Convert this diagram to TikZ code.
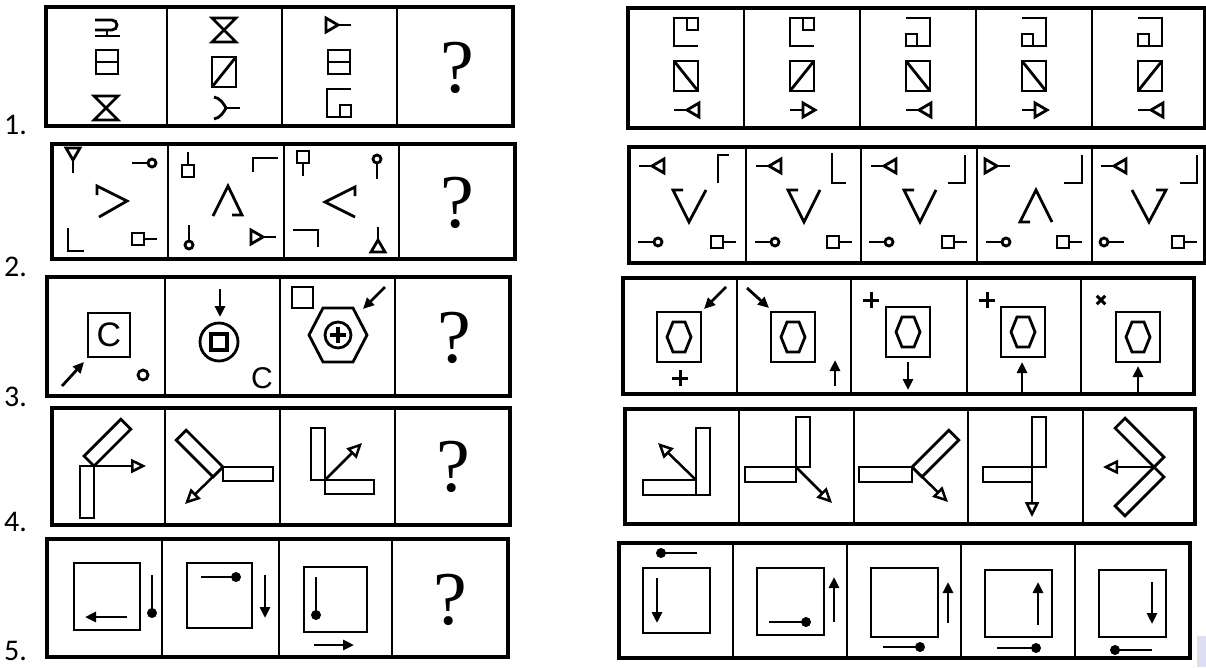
\documentclass[tikz,border=0pt]{standalone}
\usepackage{fontspec}
\usetikzlibrary{arrows.meta}
\newfontfamily\numfont{Carlito}
\newfontfamily\qfont{Liberation Serif}
\newfontfamily\cfont{Liberation Sans}
\begin{document}
\begin{tikzpicture}[x=1pt,y=-1pt, line join=miter,
  frame/.style={line width=3.4pt},
  divl/.style={line width=2.5pt},
  sym/.style={line width=2.8pt},
  farr/.style={line width=2.8pt,-{Triangle[length=11pt,width=10pt]}},
  oarr/.style={line width=2.5pt,-{Triangle[open,length=15pt,width=14pt]}},
  qm/.style={font=\qfont\fontsize{76}{76}\selectfont, inner sep=0pt},
  lab/.style={font=\numfont\fontsize{30}{30}\selectfont, inner sep=0pt, anchor=base west},
  lol/.pic={\draw[sym] (-12,0)--(4,0); \draw[sym] (8,0) circle (4pt);},
  sqs/.pic={\draw[sym] (-12,0)--(1,0); \draw[sym] (1,-6) rectangle (13,6);},
  tri/.pic={\draw[sym] (-12,0)--(1,0); \draw[sym] (1,0)--(13,-7)--(13,7)--cycle;},
  tarr/.pic={\draw[sym] (-12,0)--(1,0); \draw[sym] (1,-7)--(13,0)--(1,7)--cycle;},
  hg/.pic={\draw[sym] (-12,-12)--(12,-12)--(-12,12)--(12,12)--cycle;},
  bxh/.pic={\draw[sym] (-11,-12) rectangle (11,12); \draw[sym] (-11,0)--(11,0);},
  bxd/.pic={\draw[sym] (-12,-15) rectangle (12,15); \draw[sym] (-12,15)--(12,-15);},
  hk/.pic={\draw[sym] (12,-14)--(-12,-14)--(-12,14)--(12,14); \draw[sym] (1,-14) rectangle (12,-2);},
  yy/.pic={\draw[sym] (0,0)--(14,0); \draw[sym] (-12,-11) .. controls (-6,-10) and (-2,-4) .. (0,0) .. controls (-2,4) and (-6,10) .. (-12,11);},
  sqhex/.pic={\draw[sym] (-22,-25) rectangle (22,25); \draw[sym] (-12,0)--(-6,-15)--(6,-15)--(12,0)--(6,15)--(-6,15)--cycle;},
  plusm/.pic={\draw[line width=3pt] (-8,0)--(8,0) (0,-8)--(0,8);},
]
\useasboundingbox (0,0) rectangle (1206,667);
\fill[white] (0,0) rectangle (1206,667);
\fill[fill={rgb,255:red,222;green,222;blue,242}] (1197,636) rectangle (1206,667);

% ---------- row labels
\node[lab] (n1) at (4,134) {1.};
\node[lab] (n2) at (4,276) {2.};
\node[lab] (n3) at (4,406) {3.};
\node[lab] (n4) at (4,531) {4.};
\node[lab] (n5) at (4,660) {5.};

% ---------- frames
\draw[frame] (46,7) rectangle (513,126);
\foreach \d in {167,282,397} \draw[divl] (\d,7)--(\d,126);
\draw[frame] (52,144) rectangle (515,259);
\foreach \d in {168,284,399} \draw[divl] (\d,144)--(\d,259);
\draw[frame] (47,277) rectangle (510,396);
\foreach \d in {165,280,395} \draw[divl] (\d,277)--(\d,396);
\draw[frame] (52,408) rectangle (510,525);
\foreach \d in {165,280,395} \draw[divl] (\d,408)--(\d,525);
\draw[frame] (47,539) rectangle (508,657);
\foreach \d in {162,279,392} \draw[divl] (\d,539)--(\d,657);

\draw[frame] (628,8) rectangle (1205,128);
\foreach \d in {744,860,976,1092} \draw[divl] (\d,8)--(\d,128);
\draw[frame] (629,147) rectangle (1205,263);
\foreach \d in {746,861,977,1092} \draw[divl] (\d,147)--(\d,263);
\draw[frame] (623,278) rectangle (1194,394);
\foreach \d in {737,851,967,1081} \draw[divl] (\d,278)--(\d,394);
\draw[frame] (625,409) rectangle (1195,524);
\foreach \d in {739,854,968,1083} \draw[divl] (\d,409)--(\d,524);
\draw[frame] (619,543) rectangle (1190,658);
\foreach \d in {733,847,961,1075} \draw[divl] (\d,543)--(\d,658);

% ---------- question marks
\node[qm] (q1) at (457,68) {?};
\node[qm] (q2) at (457,203) {?};
\node[qm] (q3) at (454,338) {?};
\node[qm] (q4) at (453,467) {?};
\node[qm] (q5) at (450,600) {?};

% ---------- row 1 left
\draw[sym] (95,20)--(112,20) arc[start angle=90,end angle=-90,radius=5pt] -- (95,30);
\draw[sym] (95,36)--(120,36) (107,30)--(107,36);
\pic at (107,62) {bxh};
\pic at (106,108) {hg};
\pic at (224,30) {hg};
\pic at (224,72) {bxd};
\pic at (226,108) {yy};
\pic[rotate=180] at (339,25) {tri};
\pic at (339,62) {bxh};
\pic[yscale=-1] at (339,103) {hk};

% ---------- row 1 right
\foreach \c/\k/\d in {686/0/-1, 802/0/1, 918/180/-1, 1034/180/-1, 1150/180/1} {
  \pic[rotate=\k] at (\c,32) {hk};
  \pic[xscale=\d] at (\c,76) {bxd};
}
\pic at (686,110) {tri};
\pic at (802,110) {tarr};
\pic at (918,110) {tri};
\pic at (1034,110) {tarr};
\pic at (1150,110) {tri};

% ---------- row 2 left
\pic[rotate=90] at (73,161) {tri};
\pic at (144,163) {lol};
\draw[sym] (97,195)--(97,186)--(127,201)--(99,217);
\draw[sym] (68,228)--(68,251)--(84,251);
\pic[rotate=180] at (145,239) {sqs};
\pic[rotate=-90] at (188,164) {sqs};
\draw[sym] (253,172)--(253,158)--(278,158);
\draw[sym] (213,216)--(228,186)--(242,215)--(232,215);
\pic[rotate=-90] at (189,237) {lol};
\pic[rotate=180] at (264,237) {tri};
\pic[rotate=90] at (303,164) {sqs};
\pic[rotate=90] at (377,167) {lol};
\draw[sym] (355,196)--(355,187)--(325,202)--(355,217);
\draw[sym] (293,230)--(318,230)--(318,247);
\pic[rotate=-90] at (378,239) {tri};

% ---------- row 2 right
\pic at (651,166) {tri};
\draw[sym] (718,183)--(718,155)--(729,155);
\draw[sym] (683,190)--(673,190)--(689,222)--(706,190);
\pic at (650,242) {lol};
\pic[rotate=180] at (724,242) {sqs};

\pic at (768,166) {tri};
\draw[sym] (832,153)--(832,183)--(846,183);
\draw[sym] (798,190)--(788,190)--(804,222)--(820,190);
\pic at (767,242) {lol};
\pic[rotate=180] at (840,242) {sqs};

\pic at (883,166) {tri};
\draw[sym] (965,155)--(965,183)--(948,183);
\draw[sym] (914,190)--(904,190)--(920,222)--(936,190);
\pic at (881,242) {lol};
\pic[rotate=180] at (955,242) {sqs};

\pic[rotate=180] at (998,166) {tri};
\draw[sym] (1082,155)--(1082,183)--(1064,183);
\draw[sym] (1030,222)--(1020,222)--(1036,190)--(1052,222);
\pic at (998,242) {lol};
\pic[rotate=180] at (1070,242) {sqs};

\pic at (1113,166) {tri};
\draw[sym] (1197,155)--(1197,183)--(1180,183);
\draw[sym] (1156,190)--(1166,190)--(1149,222)--(1132,190);
\pic[rotate=180] at (1112,242) {lol};
\pic[rotate=180] at (1185,242) {sqs};

% ---------- row 3 left
\draw[sym] (88,313) rectangle (130,357);
\node[font=\cfont\fontsize{34}{34}\selectfont, inner sep=0pt] (c1) at (109,335) {C};
\draw[farr] (62,386)--(84,362);
\draw[sym] (143,375) circle (5pt);
\draw[farr] (220,289)--(220,317);
\draw[sym] (219,342) circle (19pt);
\draw[line width=3.6pt] (211,334) rectangle (227,350);
\node[font=\cfont\fontsize{30}{30}\selectfont, inner sep=0pt] (c2) at (262,378) {C};
\draw[sym] (292,287) rectangle (313,308);
\draw[sym] (309,335)--(323,308)--(353,308)--(367,335)--(353,362)--(323,362)--cycle;
\draw[sym] (338,335) circle (13pt);
\draw[line width=3.4pt] (330,335)--(346,335) (338,327)--(338,343);
\draw[farr] (385,287)--(363,309);

% ---------- row 3 right
\pic at (679,337) {sqhex};
\draw[farr] (726,287)--(704,309);
\pic at (680,378) {plusm};
\pic at (793,337) {sqhex};
\draw[farr] (747,288)--(769,308);
\draw[farr] (835,386)--(835,360);
\pic at (871,300) {plusm};
\pic at (908,332) {sqhex};
\draw[farr] (908,362)--(908,390);
\pic at (987,300) {plusm};
\pic at (1023,332) {sqhex};
\draw[farr] (1022,393)--(1022,362);
\pic[rotate=45,scale=0.75] at (1101,300) {plusm};
\pic at (1138,337) {sqhex};
\draw[farr] (1138,394)--(1138,366);

% ---------- row 4 left
\draw[sym] (80,466) rectangle (94,518);
\draw[sym, rotate around={45:(94,466)}] (94,466) rectangle (146,452);
\draw[oarr] (94,466)--(146,466);
\draw[sym] (223,467) rectangle (273,481);
\draw[sym, rotate around={135:(223,467)}] (223,467) rectangle (275,453);
\draw[oarr] (223,467)--(185,504);
\draw[sym] (311,428) rectangle (325,480);
\draw[sym] (325,480) rectangle (374,494);
\draw[oarr] (325,480)--(362,443);

% ---------- row 4 right
\draw[sym] (696,428) rectangle (710,495);
\draw[sym] (643,480) rectangle (696,495);
\draw[oarr] (696,480)--(658,443);
\draw[sym] (796,417) rectangle (810,467);
\draw[sym] (745,467) rectangle (796,482);
\draw[oarr] (796,467)--(832,503);
\draw[sym] (859,467) rectangle (912,482);
\draw[sym, rotate around={45:(912,467)}] (912,467) rectangle (964,481);
\draw[oarr] (912,467)--(948,502);
\draw[sym] (1032,417) rectangle (1046,467);
\draw[sym] (983,467) rectangle (1032,482);
\draw[oarr] (1032,467)--(1032,517);
\draw[sym, rotate around={135:(1154,467)}] (1154,467) rectangle (1209,481);
\draw[sym, rotate around={225:(1154,467)}] (1154,467) rectangle (1209,453);
\draw[oarr] (1154,467)--(1103,467);

% ---------- row 5 left
\draw[sym] (74,563) rectangle (140,630);
\draw[farr] (127,617)--(85,617);
\draw[sym] (152,575)--(152,611); \fill (152,613) circle (5pt);
\draw[sym] (187,563) rectangle (252,628);
\draw[sym] (201,577)--(234,577); \fill (236,577) circle (5pt);
\draw[farr] (265,575)--(265,618);
\draw[sym] (304,567) rectangle (367,632);
\draw[sym] (316,577)--(316,613); \fill (316,615) circle (5pt);
\draw[farr] (314,645)--(354,645);

% ---------- row 5 right
\fill (661,553) circle (5pt); \draw[sym] (661,553)--(697,553);
\draw[sym] (643,568) rectangle (710,633);
\draw[farr] (657,578)--(657,623);
\draw[sym] (757,568) rectangle (824,635);
\draw[sym] (769,622)--(806,622); \fill (806,622) circle (5pt);
\draw[farr] (834,622)--(834,577);
\draw[sym] (871,568) rectangle (938,637);
\draw[farr] (948,623)--(948,582);
\draw[sym] (883,647)--(920,647); \fill (920,647) circle (5pt);
\draw[sym] (985,570) rectangle (1052,637);
\draw[farr] (1038,625)--(1038,582);
\draw[sym] (997,648)--(1036,648); \fill (1036,648) circle (5pt);
\draw[sym] (1099,570) rectangle (1166,637);
\draw[farr] (1152,582)--(1152,624);
\fill (1115,650) circle (5pt); \draw[sym] (1115,650)--(1152,650);
\end{tikzpicture}
\end{document}
